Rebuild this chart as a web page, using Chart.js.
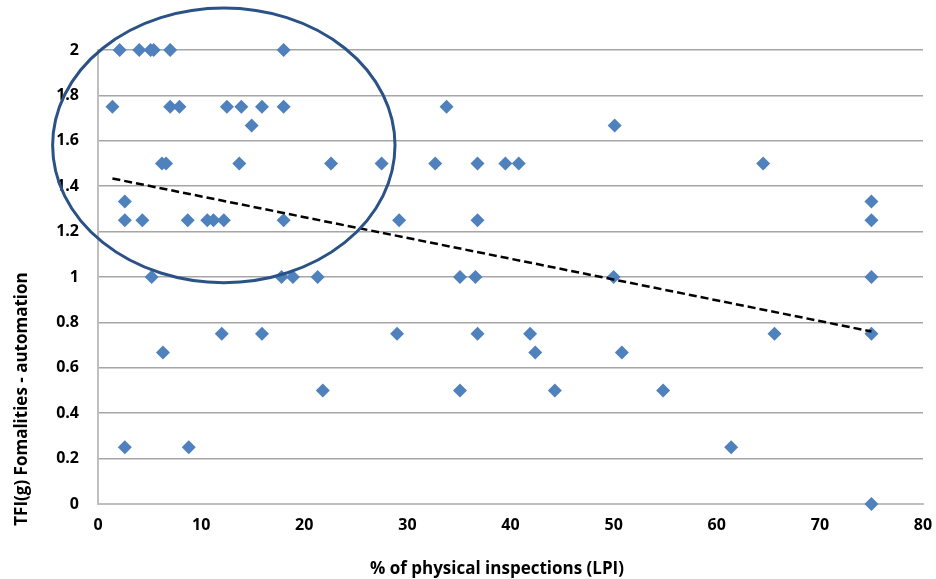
<!DOCTYPE html>
<html>
<head>
<meta charset="utf-8">
<script src="https://cdn.jsdelivr.net/npm/chart.js@4.4.0/dist/chart.umd.min.js"></script>
<style>
    html, body { margin: 0; padding: 0; background: #ffffff; }
    #wrap { width: 936px; height: 579px; position: relative; }
</style>
</head>
<body>
<div id="wrap"><canvas id="chart"></canvas></div>
<script>
// Values
const xValues = [
    2.1, 4.0, 5.1, 5.4, 7.0, 18.0,
    1.4, 7.0, 7.9, 12.5, 13.9, 15.9, 18.0, 33.8,
    14.9, 50.1,
    6.2, 6.6, 13.7, 22.6, 27.5, 32.7, 36.8, 39.5, 40.8, 64.5,
    2.6, 75,
    2.6, 4.3, 8.7, 10.6, 11.2, 12.2, 18.0, 29.2, 36.8, 75,
    5.2, 17.8, 18.9, 21.3, 35.1, 36.6, 50.0, 75,
    12.0, 15.9, 29.0, 36.8, 41.9, 65.6, 75,
    6.3, 42.4, 50.8,
    21.8, 35.1, 44.3, 54.8,
    2.6, 8.8, 61.4,
    75
];
const yValues = [
    2, 2, 2, 2, 2, 2,
    1.75, 1.75, 1.75, 1.75, 1.75, 1.75, 1.75, 1.75,
    1.667, 1.667,
    1.5, 1.5, 1.5, 1.5, 1.5, 1.5, 1.5, 1.5, 1.5, 1.5,
    1.333, 1.333,
    1.25, 1.25, 1.25, 1.25, 1.25, 1.25, 1.25, 1.25, 1.25, 1.25,
    1, 1, 1, 1, 1, 1, 1, 1,
    0.75, 0.75, 0.75, 0.75, 0.75, 0.75, 0.75,
    0.667, 0.667, 0.667,
    0.5, 0.5, 0.5, 0.5,
    0.25, 0.25, 0.25,
    0
];

// Linear trendline end points (as drawn in the picture)
const trendX = [1.4, 75];
const trendY = [1.434, 0.760];

// Axis ticks
const xTicks = [0, 10, 20, 30, 40, 50, 60, 70, 80];
const yTicks = ['0', '0.2', '0.4', '0.6', '0.8', '1', '1.2', '1.4', '1.6', '1.8', '2'];

const xTitle = '% of physical inspections (LPI)';
const yTitle = 'TFI(g) Fomalities - automation';

// Highlight ellipse, in data units
const highlight = { cx: 12.2, cy: 1.58, rx: 16.6, ry: 0.605 };

const FONT = "'Open Sans', 'Liberation Sans', sans-serif";

const scatterPoints = xValues.map((x, i) => ({ x: x, y: yValues[i] }));
const trendPoints = trendX.map((x, i) => ({ x: x, y: trendY[i] }));

// Draws the ellipse and both axis titles
const extrasPlugin = {
    id: 'extras',
    afterDatasetsDraw(chart) {
        const ctx = chart.ctx;
        const xs = chart.scales.x;
        const ys = chart.scales.y;
        const cx = xs.getPixelForValue(highlight.cx);
        const cy = ys.getPixelForValue(highlight.cy);
        const rx = xs.getPixelForValue(highlight.cx + highlight.rx) - cx;
        const ry = cy - ys.getPixelForValue(highlight.cy + highlight.ry);
        ctx.save();
        ctx.beginPath();
        ctx.ellipse(cx, cy, rx, ry, 0, 0, Math.PI * 2);
        ctx.strokeStyle = '#2A5287';
        ctx.lineWidth = 3;
        ctx.stroke();
        ctx.restore();
    },
    afterDraw(chart) {
        const ctx = chart.ctx;
        ctx.save();
        ctx.fillStyle = '#000000';
        ctx.font = 'bold 17px ' + FONT;
        ctx.textAlign = 'center';
        ctx.textBaseline = 'middle';
        ctx.fillText(xTitle, 497, 569);
        ctx.translate(22, 399);
        ctx.rotate(-Math.PI / 2);
        ctx.fillText(yTitle, 0, 0);
        ctx.restore();
    }
};

new Chart(document.getElementById('chart'), {
    type: 'scatter',
    data: {
        datasets: [
            {
                type: 'line',
                label: 'Linear trend',
                data: trendPoints,
                borderColor: '#000000',
                borderWidth: 2.5,
                borderDash: [8, 4],
                pointRadius: 0,
                fill: false,
                order: 0
            },
            {
                label: 'TFI(g)',
                data: scatterPoints,
                pointStyle: 'rectRot',
                pointRadius: 7,
                pointHoverRadius: 7,
                backgroundColor: '#4F81BD',
                borderColor: '#4F81BD',
                borderWidth: 0,
                clip: false,
                order: 1
            }
        ]
    },
    options: {
        responsive: true,
        maintainAspectRatio: false,
        animation: false,
        layout: { padding: { top: 50, right: 13, left: 0, bottom: 0 } },
        plugins: {
            legend: { display: false },
            tooltip: { enabled: false }
        },
        scales: {
            x: {
                type: 'linear',
                min: xTicks[0],
                max: xTicks[xTicks.length - 1],
                afterFit: scale => {
                    scale.height = 75;
                    scale.paddingLeft = 0;
                    scale.paddingRight = 0;
                },
                afterBuildTicks: scale => { scale.ticks = xTicks.map(v => ({ value: v })); },
                grid: { display: false, drawTicks: false },
                border: { display: true, color: '#BFBFBF', width: 2 },
                ticks: {
                    padding: 12,
                    color: '#000000',
                    font: { family: FONT, size: 16, weight: 'bold' }
                }
            },
            y: {
                type: 'linear',
                min: 0,
                max: 2,
                afterFit: scale => {
                    scale.width = 98;
                    scale.paddingTop = 0;
                    scale.paddingBottom = 0;
                },
                afterBuildTicks: scale => { scale.ticks = yTicks.map(v => ({ value: parseFloat(v) })); },
                grid: { color: '#A6A6A6', lineWidth: 1.5, drawTicks: false },
                border: { display: true, color: '#BFBFBF', width: 2 },
                ticks: {
                    padding: 19,
                    color: '#000000',
                    font: { family: FONT, size: 16, weight: 'bold' },
                    callback: function(value, index) { return yTicks[index]; }
                }
            }
        }
    },
    plugins: [extrasPlugin]
});
</script>
</body>
</html>
